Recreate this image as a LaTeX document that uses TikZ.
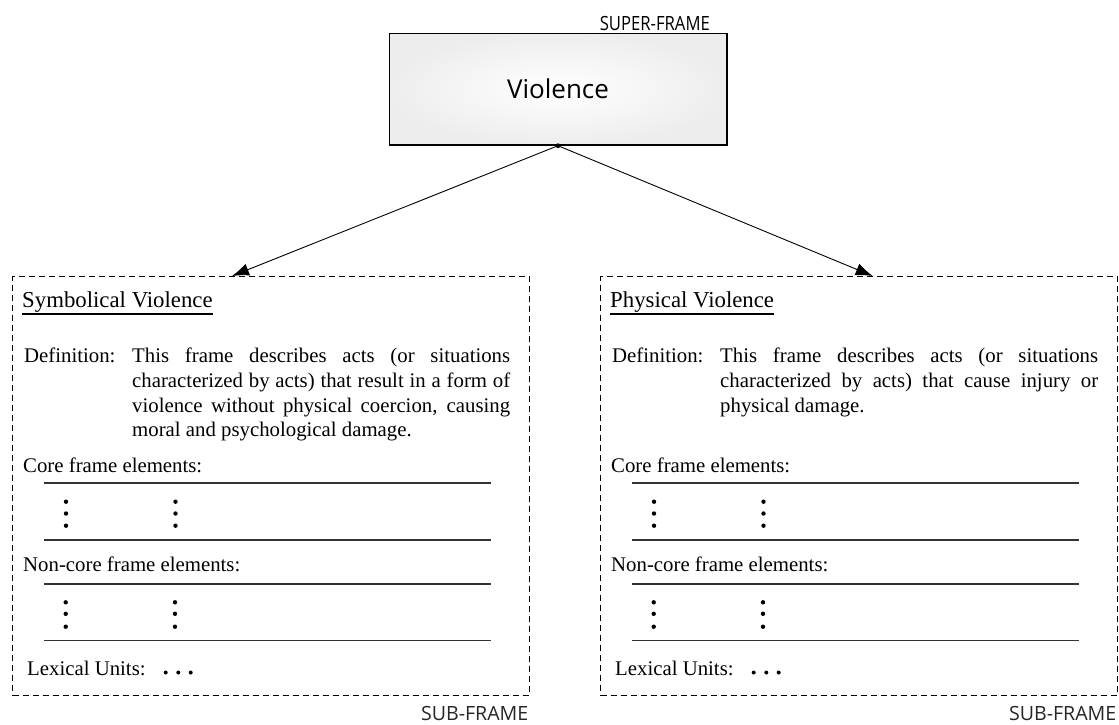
\documentclass[tikz,border=0pt]{standalone}
\usepackage{fontspec}
\setmainfont{Liberation Serif}
\newfontfamily\labelsans{Open Sans}
\newfontfamily\labelsanscond[FakeStretch=0.85]{Open Sans}
\usetikzlibrary{arrows.meta}

\tikzset{
  superbox/.style={draw, line width=1.3pt, minimum width=337.7pt, minimum height=111.7pt,
    inner color=white, outer color=black!7, inner sep=0pt,
    font=\labelsans\fontsize{26}{30}\selectfont},
  hubdot/.style={circle, fill=black, inner sep=0pt, minimum size=4.8pt},
  subbox/.style={draw, dash pattern=on 6pt off 4pt, line width=1.4pt,
    minimum width=516.5pt, minimum height=419pt, anchor=north west, inner sep=0pt},
  link/.style={line width=0.9pt, -{Latex[length=17pt,width=12.5pt]}},
  rulebar/.style={line width=1.2pt, draw=black!80},
  bodytext/.style={font=\fontsize{20.8}{24.7}\selectfont, inner sep=0pt, anchor=base west},
  titletext/.style={font=\fontsize{22.8}{26}\selectfont, inner sep=0pt, anchor=base west},
  deftext/.style={bodytext, text width=378pt, align=justify},
  tag/.style={inner sep=0pt, anchor=base east},
  elemdot/.style={fill=black},
}

% One sub-frame panel: #1 horizontal offset, #2 name prefix, #3 title, #4 definition
\newcommand\framepanel[4]{%
\begin{scope}[xshift=#1]
  \node[subbox] (#2-box) at (12,276) {};
  \node[titletext] (#2-title) at (22,307) {#3};
  \draw[line width=1.2pt] ([yshift=-7pt]#2-title.base west) -- ([yshift=-7pt]#2-title.base east);
  \node[bodytext] (#2-deflabel) at (24,362.7) {Definition:};
  \node[deftext] (#2-def) at (132,362.7) {#4};
  % core frame elements
  \node[bodytext] (#2-core) at (23,472) {Core frame elements:};
  \draw[rulebar] (44,483) -- (491,483);
  \foreach \dx in {66,175.5}
    \foreach \dy in {501.7,513.5,525.7}
      \fill[elemdot] (\dx,\dy) circle (2.2pt);
  \draw[rulebar] (44,540) -- (491,540);
  % non-core frame elements
  \node[bodytext] (#2-noncore) at (23,571.7) {Non-core frame elements:};
  \draw[rulebar] (44,584) -- (491,584);
  \foreach \dx in {65.7,175}
    \foreach \dy in {602.3,613.8,626.7}
      \fill[elemdot] (\dx,\dy) circle (2.2pt);
  \draw[rulebar] (44,640.7) -- (491,640.7);
  % lexical units
  \node[bodytext] (#2-lexical) at (27,675) {Lexical Units:};
  \foreach \dx in {165.7,178.3,190.7}
    \fill[elemdot] (\dx,672.5) circle (2pt);
  \node[tag, font=\labelsans\fontsize{19.6}{22}\selectfont, text=black!85] (#2-tag) at (528.5,720.5) {SUB-FRAME};
\end{scope}}

\begin{document}
\begin{tikzpicture}[x=1pt, y=-1pt]
  \useasboundingbox (0,0) rectangle (1119,724);

  % super-frame
  \node[superbox] (violence) at (558,89.2) {Violence};
  \node[tag, font=\labelsanscond\fontsize{19.6}{22}\selectfont] (superlabel) at (710,30.7) {SUPER-FRAME};
  \node[hubdot] (hub) at (violence.south) {};

  % sub-frames
  \framepanel{0pt}{sym}{Symbolical Violence}{This frame describes acts (or situations\linebreak
    characterized by acts) that result in a form of\linebreak
    violence without physical coercion, causing\linebreak
    moral and psychological damage.}
  \framepanel{588pt}{phy}{Physical Violence}{This frame describes acts (or situations\linebreak
    characterized by acts) that cause injury or\linebreak
    physical damage.}

  % links from the super-frame to its sub-frames
  \coordinate (symtip) at (232,276);
  \coordinate (phytip) at (872.7,276);
  \draw[link] (hub.center) -- (symtip);
  \draw[link] (hub.center) -- (phytip);
\end{tikzpicture}
\end{document}
